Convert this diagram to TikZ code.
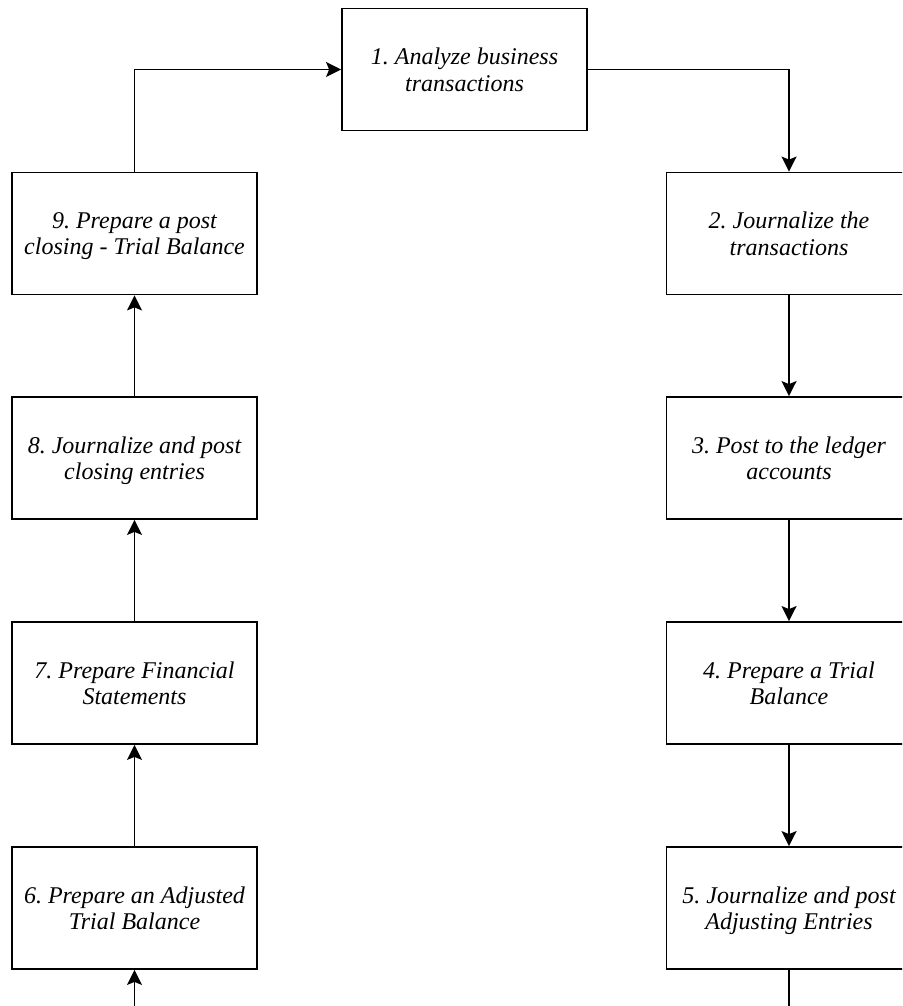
\documentclass[tikz,border=0pt]{standalone}
\usepackage{fontspec}
\setmainfont{Liberation Serif}
\usetikzlibrary{arrows.meta}
\frenchspacing
\begin{document}
\begin{tikzpicture}[x=1pt,y=-1pt,
  box/.style={draw, line width=1.8pt, minimum width=245pt, minimum height=122pt,
    align=center, font=\itshape\fontsize{24}{26.5}\selectfont, inner sep=0pt,
    text depth=0pt},
  arr/.style={-{Stealth[length=15pt,width=15pt,inset=3pt]}, line width=1.8pt},
  ln/.style={line width=1.8pt}]
\useasboundingbox (0,0) rectangle (902,1006);
\clip (0,0) rectangle (902,1006);
\node[box] (n1) at (464.5,69.5) {1. Analyze business\\transactions};
\node[box] (n2) at (789,233.5) {2. Journalize the\\transactions};
\node[box] (n3) at (789,458) {3. Post to the ledger\\accounts};
\node[box] (n4) at (789,683) {4. Prepare a Trial\\Balance};
\node[box] (n5) at (789,908) {5. Journalize and post\\Adjusting Entries};
\node[box] (n6) at (134.5,908) {6. Prepare an Adjusted\\Trial Balance};
\node[box] (n7) at (134.5,683) {7. Prepare Financial\\Statements};
\node[box] (n8) at (134.5,458) {8. Journalize and post\\closing entries};
\node[box] (n9) at (134.5,233.5) {9. Prepare a post\\closing - Trial Balance};
\coordinate (b5) at (789,1030);
\coordinate (b6) at (134.5,1030);
\draw[arr] (n1.east) -| (n2.north);
\draw[arr] (n2.south) -- (n3.north);
\draw[arr] (n3.south) -- (n4.north);
\draw[arr] (n4.south) -- (n5.north);
\draw[ln] (n5.south) -- (b5);
\draw[arr] (b6) -- (n6.south);
\draw[arr] (n6.north) -- (n7.south);
\draw[arr] (n7.north) -- (n8.south);
\draw[arr] (n8.north) -- (n9.south);
\draw[arr] (n9.north) |- (n1.west);
\end{tikzpicture}
\end{document}
